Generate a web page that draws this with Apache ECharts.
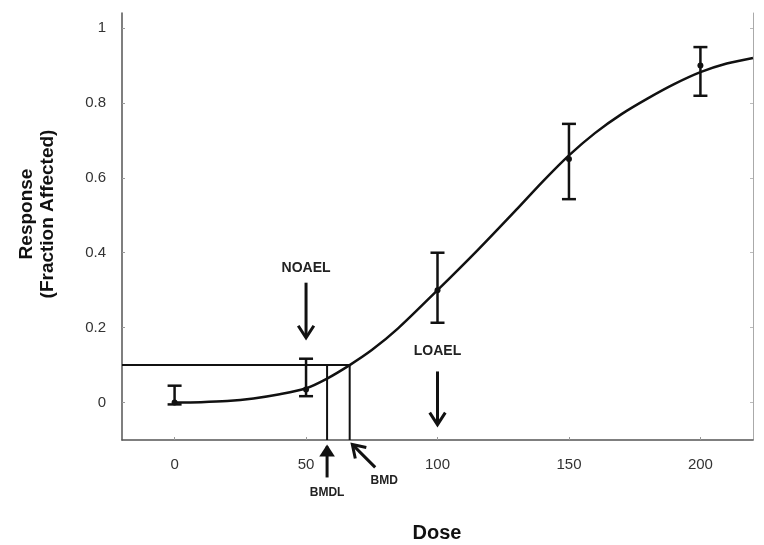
<!DOCTYPE html>
<html>
<head>
<meta charset="utf-8">
<script src="https://cdn.jsdelivr.net/npm/echarts@6/dist/echarts.min.js"></script>
<style>html,body{margin:0;padding:0;background:#fff}#c{width:764px;height:545px}</style>
</head>
<body>
<div id="c"></div>
<script>
// ---- data ----
const doses = [0, 50, 100, 150, 200];
const means = [0.0, 0.035, 0.30, 0.65, 0.90];
const lower = [-0.005, 0.017, 0.213, 0.543, 0.819];
const upper = [0.045, 0.117, 0.40, 0.744, 0.949];
const curveX = [0, 10, 20, 30, 40, 50, 58, 66.6, 75, 85, 100, 115, 130, 140, 150, 160, 170, 180, 190, 200, 210, 220];
const curveY = [0.0, 0.001, 0.004, 0.011, 0.022, 0.038, 0.064, 0.10, 0.14, 0.198, 0.30, 0.405, 0.515, 0.59, 0.66, 0.72, 0.77, 0.812, 0.85, 0.882, 0.905, 0.92];
const bmr = 0.1;
const bmdl = 58;
const bmd = 66.6;
const xTicks = [0, 50, 100, 150, 200];
const yTicks = [0, 0.2, 0.4, 0.6, 0.8, 1];
const xRange = [-20, 220];
const yRange = [-0.1, 1.04];
const noaelDose = 50;
const loaelDose = 100;

const FONT = "'Liberation Sans', Arial, sans-serif";
const chart = echarts.init(document.getElementById('c'));

const option = {
  animation: false,
  backgroundColor: '#fff',
  grid: { left: 122, right: 11, top: 13, bottom: 105 },
  xAxis: {
    type: 'value', min: xRange[0], max: xRange[1],
    axisLine: { show: true, onZero: false, lineStyle: { color: '#555', width: 1.5 } },
    axisTick: { show: true, inside: true, length: 3, customValues: xTicks, lineStyle: { color: '#999' } },
    axisLabel: { customValues: xTicks, color: '#333', fontSize: 15, fontFamily: FONT, margin: 17 },
    splitLine: { show: false }
  },
  yAxis: [{
    type: 'value', min: yRange[0], max: yRange[1],
    axisLine: { show: true, onZero: false, lineStyle: { color: '#555', width: 1.5 } },
    axisTick: { show: true, inside: true, length: 3, customValues: yTicks, lineStyle: { color: '#999' } },
    axisLabel: { customValues: yTicks, color: '#333', fontSize: 15, fontFamily: FONT, margin: 16,
      formatter: v => String(+v.toFixed(1)) },
    splitLine: { show: false }
  }, {
    type: 'value', min: yRange[0], max: yRange[1], position: 'right',
    axisLine: { show: true, onZero: false, lineStyle: { color: '#aaa', width: 1 } },
    axisTick: { show: true, inside: true, length: 3, customValues: yTicks, lineStyle: { color: '#bbb' } },
    axisLabel: { show: false }, splitLine: { show: false }
  }],
  series: [
    {
      type: 'line', name: 'fit', data: curveX.map((x, i) => [x, curveY[i]]),
      smooth: 0.3, showSymbol: false, lineStyle: { color: '#111', width: 2.5 }, z: 3
    },
    {
      type: 'line', name: 'bmr', data: [[xRange[0], bmr], [bmd, bmr]],
      showSymbol: false, lineStyle: { color: '#111', width: 2 }, z: 2
    },
    {
      type: 'line', name: 'bmdl', data: [[bmdl, yRange[0]], [bmdl, bmr]],
      showSymbol: false, lineStyle: { color: '#111', width: 2 }, z: 2
    },
    {
      type: 'line', name: 'bmd', data: [[bmd, yRange[0]], [bmd, bmr]],
      showSymbol: false, lineStyle: { color: '#111', width: 2 }, z: 2
    },
    {
      type: 'custom', name: 'err',
      data: doses.map((d, i) => [d, means[i], lower[i], upper[i]]),
      renderItem: function (params, api) {
        const x = api.value(0);
        const m = api.coord([x, api.value(1)]);
        const lo = api.coord([x, api.value(2)]);
        const hi = api.coord([x, api.value(3)]);
        const hw = 7;
        const st = { stroke: '#111', lineWidth: 2.5 };
        return {
          type: 'group',
          children: [
            { type: 'line', shape: { x1: lo[0], y1: lo[1], x2: hi[0], y2: hi[1] }, style: st },
            { type: 'line', shape: { x1: hi[0] - hw, y1: hi[1], x2: hi[0] + hw, y2: hi[1] }, style: st },
            { type: 'line', shape: { x1: lo[0] - hw, y1: lo[1], x2: lo[0] + hw, y2: lo[1] }, style: st },
            { type: 'circle', shape: { cx: m[0], cy: m[1], r: 3 }, style: { fill: '#111' } }
          ]
        };
      },
      z: 4
    }
  ]
};
chart.setOption(option);

// ---- annotations (placed in data space, converted via the chart) ----
function P(x, y) { return chart.convertToPixel({ gridIndex: 0 }, [x, y]); }
const g = [];
function arrow(from, to, head, filled) {
  const a = P(from[0], from[1]), b = P(to[0], to[1]);
  const dx = b[0] - a[0], dy = b[1] - a[1];
  const L = Math.hypot(dx, dy), ux = dx / L, uy = dy / L;
  const px = -uy, py = ux;
  const hl = head, hw = head * 0.65;
  const base = [b[0] - ux * hl, b[1] - uy * hl];
  g.push({ type: 'line', shape: { x1: a[0], y1: a[1], x2: b[0] - ux * 2, y2: b[1] - uy * 2 }, style: { stroke: '#111', lineWidth: 3 } });
  if (filled) {
    g.push({ type: 'polygon', shape: { points: [[b[0], b[1]], [base[0] + px * hw, base[1] + py * hw], [base[0] - px * hw, base[1] - py * hw]] }, style: { fill: '#111' } });
  } else {
    g.push({ type: 'polyline', shape: { points: [[base[0] + px * hw, base[1] + py * hw], [b[0], b[1]], [base[0] - px * hw, base[1] - py * hw]] }, style: { stroke: '#111', lineWidth: 3, fill: null } });
  }
}
function label(x, y, text, size) {
  const p = P(x, y);
  g.push({ type: 'text', x: p[0], y: p[1], style: { text: text, fill: '#222', font: 'bold ' + size + 'px ' + FONT, align: 'center', verticalAlign: 'middle' } });
}
label(noaelDose, 0.36, 'NOAEL', 14);
arrow([noaelDose, 0.32], [noaelDose, 0.173], 12, false);
label(loaelDose, 0.136, 'LOAEL', 14);
arrow([loaelDose, 0.083], [loaelDose, -0.059], 12, false);
arrow([bmdl, -0.2], [bmdl, -0.112], 12, true);
label(bmdl, -0.24, 'BMDL', 12);
arrow([76.3, -0.173], [67.6, -0.112], 12, false);
label(79.7, -0.208, 'BMD', 12);

g.push({ type: 'text', x: 437, y: 533, style: { text: 'Dose', fill: '#111', font: 'bold 20px ' + FONT, align: 'center', verticalAlign: 'middle' } });
g.push({ type: 'text', x: 37, y: 214, rotation: Math.PI / 2, style: { text: 'Response\n(Fraction Affected)', fill: '#111', font: 'bold 19px ' + FONT, align: 'center', verticalAlign: 'middle', lineHeight: 21 } });
chart.setOption({ graphic: g });
</script>
</body>
</html>
